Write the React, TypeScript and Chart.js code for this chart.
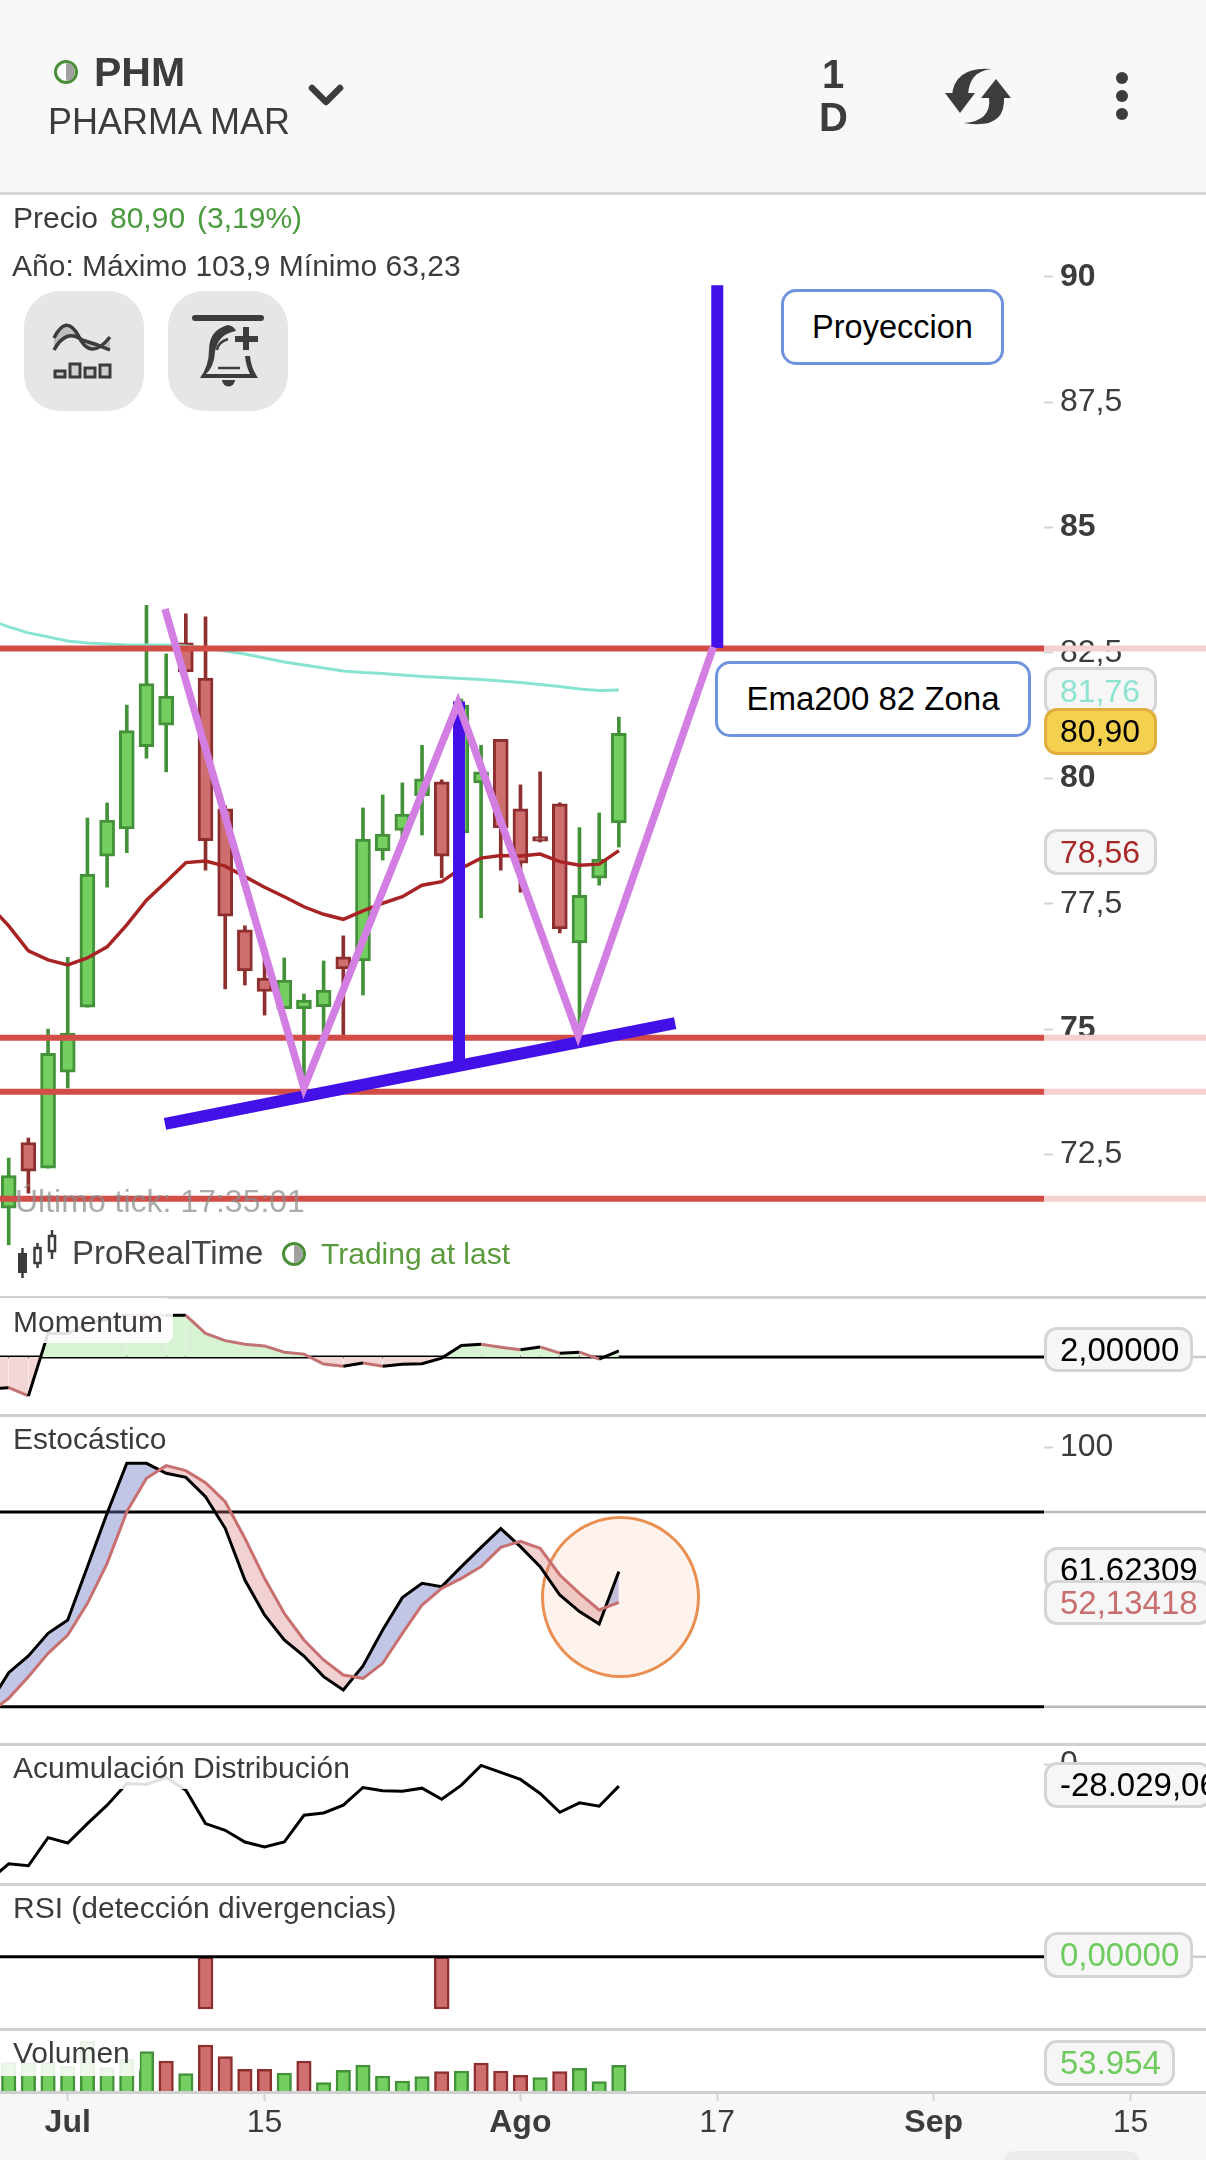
import React, { useEffect, useRef } from "react";
import { Chart, registerables } from "chart.js";

Chart.register(...registerables);

const FONT = '"Liberation Sans", Arial, sans-serif';

// ---------- price panel data ----------
const candleIndex = [0,1,2,3,4,5,6,7,8,9,10,11,12,13,14,15,16,17,18,19,20,21,22,23,24,25,26,27,28,29,30,31];
const candleOpen = [71.43,72.74,72.23,74.14,75.44,78.45,78.99,80.63,81.06,82.70,82.00,79.39,76.98,76.02,75.41,75.41,75.45,76.44,76.36,78.56,78.96,79.65,79.93,78.91,79.91,80.78,79.39,78.84,79.49,76.72,78.01,79.11];
const candleClose = [72.08,72.17,74.52,74.92,78.09,79.17,80.95,81.89,81.64,82.12,78.76,77.25,76.16,75.75,75.98,75.58,75.78,76.20,78.79,78.89,79.29,79.99,78.45,81.46,80.13,79.01,78.31,78.75,77.00,77.67,78.39,80.90];
const candleHigh = [72.43,72.83,75.00,76.43,79.21,79.51,81.46,83.45,82.48,83.28,83.22,79.45,77.06,76.42,76.42,75.70,76.36,76.86,79.41,79.67,79.91,80.66,79.97,81.58,80.66,80.78,79.87,80.13,79.51,79.02,79.31,81.22];
const candleLow = [70.70,71.73,72.23,73.83,75.44,77.83,78.52,80.40,80.13,82.12,78.17,75.80,75.88,75.28,75.41,73.83,74.92,74.88,75.68,78.37,78.83,78.87,78.02,78.91,77.22,78.17,77.73,78.73,76.92,74.88,77.87,78.63];
const lineIndex = [-1,0,1,2,3,4,5,6,7,8,9,10,11,12,13,14,15,16,17,18,19,20,21,22,23,24,25,26,27,28,29,30,31];
const maValues = [77.48,77.06,76.56,76.38,76.28,76.42,76.64,77.08,77.57,77.94,78.32,78.35,78.25,78.04,77.83,77.64,77.44,77.29,77.19,77.36,77.51,77.64,77.87,77.94,78.21,78.41,78.46,78.45,78.49,78.34,78.27,78.29,78.56];
const emaValues = [83.16,83.02,82.90,82.82,82.74,82.70,82.68,82.66,82.66,82.66,82.64,82.60,82.54,82.48,82.40,82.32,82.26,82.20,82.14,82.11,82.09,82.06,82.03,82.01,81.99,81.97,81.94,81.91,81.87,81.83,81.78,81.75,81.76];
const priceLevels = [82.59, 74.83, 73.75, 71.62];
const priceTicks = [72.5, 75, 77.5, 80, 82.5, 85, 87.5, 90];
const zigzagX = [7.94, 15.0, 22.83, 28.93, 35.8];
const zigzagY = [83.375, 73.83, 81.5, 74.88, 82.62];
const projectionX = [36, 36];
const projectionY = [89.83, 82.6];
const measureX = [22.88, 22.88];
const measureY = [81.53, 74.34];
const supportX = [7.94, 33.86];
const supportY = [73.11, 75.12];

// ---------- indicators ----------
const momentumValues = [-10.1,-9.79,-12.42,7.58,7.58,10.7,12,13.5,13.4,13.37,13.37,7.58,5.26,4.11,3.58,1.58,0.95,-2.21,-2.95,-1.89,-2.95,-2.32,-2.11,-0.32,3.68,4.11,3.16,2.32,3.26,1.26,1.58,-0.63,2.0];
const stochK = [20.73,30.49,35.62,42.61,46.72,63.15,79.59,95,95,91.92,90.68,84.73,74.97,59.04,48.26,40.55,35.62,29.26,25.15,32.54,43.64,53.6,58.02,56.99,63.15,69.11,74.86,69.32,63.15,54.42,49.29,45.49,61.62];
const stochD = [17.96,22.58,29.26,36.45,42.1,51.85,64.18,80.1,90.38,94.28,92.74,89.04,83.18,71.89,59.56,48.77,40.55,34.39,29.77,28.74,33.36,42.61,51.34,56.48,59.56,63.15,69.11,70.96,68.8,60.59,54.94,49.8,52.13];
const stochLevels = [80, 20];
const adValues = [-147900,-126650,-129200,-93500,-100300,-75650,-52275,-24650,-25925,-17000,-33150,-75650,-84150,-99025,-105400,-99025,-65025,-62050,-52275,-29750,-34000,-34425,-30600,-44625,-26775,-1700,-10625,-19550,-37400,-61200,-49300,-53550,-28029];
const rsiIndex = [10, 22];
const rsiValues = [-1, -1];
const volumeValues = [59560,59560,59560,52550,105100,49050,66570,82680,63060,36436,96700,72170,45545,45545,37838,63060,17518,43443,54655,31531,21021,30130,40640,42042,58860,42042,32933,28028,40640,47648,19620,53954];
const volumeUp = [1,1,1,1,1,1,1,1,0,1,0,0,0,0,1,0,1,1,1,1,1,1,0,1,0,0,0,1,0,1,1,1];
const xTickIndex = [3, 13, 26, 36, 47, 57];
const xTickLabels = ["Jul", "15", "Ago", "17", "Sep", "15"];
const xTickBold = ["Jul", "Ago", "Sep"];

// ---------- scale limits ----------
const X_MIN = -0.442;
const X_PLOT_MAX = 52.6;
const X_PAGE_MAX = 60.84;

const GREEN_FILL = "#74cf60";
const GREEN_EDGE = "#43923a";
const RED_FILL = "#cf6e6e";
const RED_EDGE = "#8e2f2f";
const LEVEL_RED = "#d24d46";
const LEVEL_FAINT = "#f6d0cf";
const VIOLET = "#d27ee3";
const BLUE = "#4310e8";
const TEXT = "#3c3c3c";

const xScale = () => ({ type: "linear", display: false, min: X_MIN, max: X_PLOT_MAX, offset: false, grid: { display: false } });

const fitY = (s: any) => { s.width = 162; s.paddingTop = 0; s.paddingBottom = 0; };

const hiddenY = (min: number, max: number) => ({
  type: "linear", position: "right", min, max,
  grid: { display: false }, border: { display: false }, ticks: { display: false },
  afterFit: fitY,
});

const tickedY = (min: number, max: number, values: number[], boldAt?: (v: number) => boolean, fmt?: (v: number) => string) => ({
  type: "linear", position: "right", min, max, z: 1,
  border: { display: false },
  grid: { drawOnChartArea: false, drawTicks: true, tickLength: 9, tickColor: "#d4d4d4", tickWidth: 2 },
  afterBuildTicks: (s: any) => { s.ticks = values.map((value) => ({ value })); },
  afterFit: fitY,
  ticks: {
    padding: 7, color: TEXT, autoSkip: false, crossAlign: "near",
    font: (ctx: any) => ({ family: FONT, size: 32, weight: boldAt && ctx.tick && boldAt(ctx.tick.value) ? "bold" : "normal" }),
    callback: (v: number) => (fmt ? fmt(v) : String(v).replace(".", ",")),
  },
});

const baseOptions = (scales: any) => ({
  responsive: false, animation: false, events: [],
  layout: { padding: 0 },
  plugins: { legend: { display: false }, tooltip: { enabled: false }, title: { display: false } },
  scales,
});

const pts = (xs: number[], ys: number[]) => xs.map((x, i) => ({ x, y: ys[i] }));

const line = (data: any[], color: string, width: number, order: number, extra: any = {}) => ({
  type: "line", data, borderColor: color, borderWidth: width, pointRadius: 0, tension: 0, fill: false, order, borderCapStyle: "butt", borderJoinStyle: "miter", ...extra,
});

const levelLine = (v: number, color: string, width: number, order: number) => line(pts([X_MIN - 1, X_PLOT_MAX], [v, v]), color, width, order, { clip: false });
const levelFaint = (v: number, color: string, width: number, order: number) => line(pts([X_PLOT_MAX, X_PAGE_MAX + 1], [v, v]), color, width, order, { clip: false });

const isUp = candleOpen.map((o, i) => candleClose[i] >= o);

const mainConfig = () => ({
  type: "bar",
  data: {
    datasets: [
      {
        data: candleIndex.map((x, i) => ({ x, y: [candleLow[i], candleHigh[i]] })),
        backgroundColor: isUp.map((u) => (u ? GREEN_EDGE : RED_EDGE)),
        borderWidth: 0, grouped: false, barPercentage: 1, categoryPercentage: 1, maxBarThickness: 3, order: 60,
      },
      {
        data: candleIndex.map((x, i) => ({ x, y: [candleOpen[i], candleClose[i]] })),
        backgroundColor: isUp.map((u) => (u ? GREEN_FILL : RED_FILL)),
        borderColor: isUp.map((u) => (u ? GREEN_EDGE : RED_EDGE)),
        borderWidth: 3, borderSkipped: false, grouped: false, barPercentage: 1, categoryPercentage: 1, maxBarThickness: 15, order: 50,
      },
      line(pts(lineIndex, emaValues), "#88e3d0", 3, 40),
      line(pts(lineIndex, maValues), "#a82424", 3.5, 39),
      ...priceLevels.map((v) => levelLine(v, LEVEL_RED, 6, 30)),
      ...priceLevels.map((v) => levelFaint(v, LEVEL_FAINT, 6, 31)),
      line(pts(projectionX, projectionY), BLUE, 12, 20),
      line(pts(measureX, measureY), BLUE, 12, 20),
      line(pts(supportX, supportY), BLUE, 12, 18),
      line(pts(zigzagX, zigzagY), VIOLET, 7.5, 10),
    ],
  },
  options: baseOptions({
    x: xScale(),
    y: tickedY(69.68, 91.63, priceTicks, (v) => v % 5 === 0),
  }),
});

const momentumConfig = () => ({
  type: "line",
  data: {
    datasets: [
      levelLine(0, "#000000", 3, 5),
      levelFaint(0, "#cccccc", 2.5, 6),
      line(pts(lineIndex, momentumValues), "#000000", 3, 1, {
        fill: { target: { value: 0 }, above: "#d8f2d4", below: "#f3d6d6" },
        segment: { borderColor: (c: any) => (c.p1.parsed.y >= c.p0.parsed.y ? "#000000" : "#c27272") },
      }),
    ],
  },
  options: baseOptions({ x: xScale(), y: hiddenY(-18.2, 18.9) }),
});

const stochConfig = () => ({
  type: "line",
  data: {
    datasets: [
      line(pts(lineIndex, stochK), "#000000", 3, 2, {
        fill: { target: "+1", above: "rgba(110,118,196,0.42)", below: "rgba(214,120,120,0.34)" },
      }),
      line(pts(lineIndex, stochD), "#c87070", 3, 1),
      ...stochLevels.map((v) => levelLine(v, "#000000", 3, 5)),
      ...stochLevels.map((v) => levelFaint(v, "#bbbbbb", 2.5, 6)),
    ],
  },
  options: baseOptions({ x: xScale(), y: tickedY(8.81, 109.58, [100]) }),
});

const adConfig = () => ({
  type: "line",
  data: { datasets: [line(pts(lineIndex, adValues), "#000000", 3, 1)] },
  options: baseOptions({ x: xScale(), y: tickedY(-151087, 22950, [0]) }),
});

const rsiConfig = () => ({
  type: "bar",
  data: {
    datasets: [
      {
        data: rsiIndex.map((x, i) => ({ x, y: [rsiValues[i], 0] })),
        backgroundColor: RED_FILL, borderColor: RED_EDGE, borderWidth: 2.5, borderSkipped: false,
        grouped: false, barPercentage: 1, categoryPercentage: 1, maxBarThickness: 15, order: 5,
      },
      levelLine(0, "#000000", 3, 2),
      levelFaint(0, "#cccccc", 2.5, 3),
    ],
  },
  options: baseOptions({ x: xScale(), y: hiddenY(-1.363, 1.352) }),
});

const volumeConfig = () => ({
  type: "bar",
  data: {
    datasets: [
      {
        data: candleIndex.map((x, i) => ({ x, y: volumeValues[i] })),
        backgroundColor: volumeUp.map((u) => (u ? GREEN_FILL : RED_FILL)),
        borderColor: volumeUp.map((u) => (u ? GREEN_EDGE : RED_EDGE)),
        borderWidth: 2.5, borderSkipped: "bottom",
        grouped: false, barPercentage: 1, categoryPercentage: 1, maxBarThickness: 14.5,
      },
    ],
  },
  options: baseOptions({ x: xScale(), y: hiddenY(0, 126120) }),
});

const axisConfig = () => ({
  type: "line",
  data: { datasets: [] },
  options: baseOptions({
    y: { display: false },
    x: {
      type: "linear", position: "bottom", min: X_MIN, max: X_PAGE_MAX, offset: false,
      border: { display: false },
      grid: { drawOnChartArea: false, drawTicks: true, tickLength: 8, tickColor: "#d4d4d4", tickWidth: 2 },
      afterBuildTicks: (s: any) => { s.ticks = xTickIndex.map((value) => ({ value })); },
      afterFit: (s: any) => { s.height = 67; s.paddingLeft = 0; s.paddingRight = 0; },
      ticks: {
        autoSkip: false, maxRotation: 0, minRotation: 0, padding: 3, color: TEXT,
        font: (ctx: any) => {
          const k = ctx.tick ? xTickIndex.indexOf(ctx.tick.value) : -1;
          return { family: FONT, size: 32, weight: k >= 0 && xTickBold.includes(xTickLabels[k]) ? "bold" : "normal" };
        },
        callback: (v: number) => xTickLabels[xTickIndex.indexOf(v)],
      },
    },
  }),
});

function Panel({ top, height, make }: { top: number; height: number; make: () => any }) {
  const ref = useRef<HTMLCanvasElement>(null);
  useEffect(() => {
    const chart = new Chart(ref.current as any, make());
    return () => chart.destroy();
  }, []);
  return <canvas ref={ref} width={1206} height={height} style={{ position: "absolute", left: 0, top, width: 1206, height, display: "block" }} />;
}

function T({ x, b, size, color = TEXT, weight = "normal", children }: any) {
  return (
    <div style={{ position: "absolute", left: x, top: b - 0.8465 * size, fontSize: size, lineHeight: `${size}px`, color, fontWeight: weight, whiteSpace: "nowrap", fontFamily: FONT }}>
      {children}
    </div>
  );
}

function Tag({ y0, y1, x1 = 1157, color = "#000", bg = "#f6f6f6", edge = "#d5d5d5", size = 32, children }: any) {
  return (
    <div style={{ position: "absolute", left: 1044, top: y0, width: x1 - 1044, height: y1 - y0, boxSizing: "border-box", background: bg, border: `3px solid ${edge}`, borderRadius: 13, color, fontSize: size, fontFamily: FONT, lineHeight: `${y1 - y0 - 6}px`, paddingLeft: 13, whiteSpace: "nowrap", overflow: "hidden" }}>
      {children}
    </div>
  );
}

function Note({ x0, y0, x1, y1, size, children }: any) {
  return (
    <div style={{ position: "absolute", left: x0, top: y0, width: x1 - x0, height: y1 - y0, boxSizing: "border-box", background: "#fff", border: "3px solid #6f93dd", borderRadius: 15, color: "#000", fontSize: size, fontFamily: FONT, lineHeight: `${y1 - y0 - 6}px`, textAlign: "center", whiteSpace: "nowrap" }}>
      {children}
    </div>
  );
}

const Sep = ({ y }: { y: number }) => <div style={{ position: "absolute", left: 0, top: y - 1.5, width: 1206, height: 3, background: "#cfcfcf" }} />;
const Veil = ({ x1, y0, y1 }: any) => <div style={{ position: "absolute", left: 0, top: y0, width: x1, height: y1 - y0, background: "rgba(255,255,255,0.88)", borderRadius: "0 8px 8px 0" }} />;

function Dot({ cx, cy }: { cx: number; cy: number }) {
  return (
    <svg style={{ position: "absolute", left: cx - 13, top: cy - 13 }} width={26} height={26}>
      <circle cx={13} cy={13} r={10.5} fill="#fff" stroke="#4a8f36" strokeWidth={3} />
      <path d="M13 4 A9 9 0 0 1 13 22 Z" fill="#a0a0a0" />
    </svg>
  );
}

function Overlay() {
  return (
    <svg style={{ position: "absolute", left: 0, top: 0 }} width={1206} height={2160}>
      {/* chevron */}
      <polyline points="312,88 326,102 340,88" fill="none" stroke="#3c3c3c" strokeWidth={6.5} strokeLinecap="round" strokeLinejoin="round" />
      {/* sync */}
      <g fill="#3c3c3c">
        <polygon points="945,93 975,93 960,113" />
        <path d="M952 95 Q955 66 992 69 Q969 71 968 95 Z" />
        <polygon points="981,98 1011,98 996,79" />
        <path d="M989 97 Q992 121 964 123 Q1006 130 1004 97 Z" />
        <circle cx={1122} cy={78} r={6} />
        <circle cx={1122} cy={96} r={6} />
        <circle cx={1122} cy={114} r={6} />
      </g>
      {/* indicator icon */}
      <path d="M54 337 Q66 314 78 335 Q90 358 110 337 L110 349 Q88 338 78 338 Q66 328 54 350 Z" fill="#bdbdbd" />
      <path d="M54 338 Q66 314 78 335 Q90 362 110 337" fill="none" stroke="#3c3c3c" strokeWidth={3.5} />
      <path d="M54 350 Q66 328 82 340 Q96 344 110 350" fill="none" stroke="#3c3c3c" strokeWidth={3.5} />
      {[[55, 371], [70, 364], [85, 368], [100, 365]].map(([x, y]) => (
        <rect key={x} x={x} y={y} width={10} height={377 - y} fill="#cfcfcf" stroke="#3c3c3c" strokeWidth={3} />
      ))}
      {/* alert icon */}
      <line x1={195} y1={318} x2={261} y2={318} stroke="#3c3c3c" strokeWidth={6} strokeLinecap="round" />
      <path d="M200 378 Q209 366 209 350 Q209 330 228 325 Q234 326 236 331 Q218 334 215 352 Q214 367 206 374 L250 374 Q246 366 245 356 L250 356 Q251 368 258 378 Z" fill="#3c3c3c" />
      <line x1={218} y1={368} x2={240} y2={368} stroke="#3c3c3c" strokeWidth={2.5} />
      <path d="M217 350 Q218 342 228 339" fill="none" stroke="#3c3c3c" strokeWidth={2.5} />
      <path d="M222 380 A6.5 6.5 0 0 0 235 380 Z" fill="#3c3c3c" />
      <line x1={246} y1={327} x2={246} y2={350} stroke="#3c3c3c" strokeWidth={6} />
      <line x1={235} y1={339} x2={258} y2={339} stroke="#3c3c3c" strokeWidth={6} />
      {/* logo candles */}
      <rect x={19} y={1254} width={7} height={18} fill="#3c3c3c" stroke="#3c3c3c" strokeWidth={2} />
      <line x1={22.5} y1={1248} x2={22.5} y2={1278} stroke="#3c3c3c" strokeWidth={2.5} />
      <rect x={34.5} y={1248} width={6} height={15} fill="#fff" stroke="#3c3c3c" strokeWidth={2.5} />
      <line x1={37.5} y1={1243} x2={37.5} y2={1248} stroke="#3c3c3c" strokeWidth={2.5} />
      <line x1={37.5} y1={1263} x2={37.5} y2={1268} stroke="#3c3c3c" strokeWidth={2.5} />
      <rect x={49} y={1236} width={6} height={15} fill="#fff" stroke="#3c3c3c" strokeWidth={2.5} />
      <line x1={52} y1={1230} x2={52} y2={1236} stroke="#3c3c3c" strokeWidth={2.5} />
      <line x1={52} y1={1251} x2={52} y2={1259} stroke="#3c3c3c" strokeWidth={2.5} />
    </svg>
  );
}

export default function App() {
  return (
    <div style={{ position: "absolute", left: 0, top: 0, width: 1206, height: 2160, overflow: "hidden", background: "#fff", fontFamily: FONT }}>
      <div style={{ position: "absolute", left: 0, top: 0, width: 1206, height: 192, background: "#f8f8f8" }} />
      <div style={{ position: "absolute", left: 0, top: 192, width: 1206, height: 3, background: "#d5d5d5" }} />
      <div style={{ position: "absolute", left: 24, top: 291, width: 120, height: 120, borderRadius: 36, background: "#e6e6e6" }} />
      <div style={{ position: "absolute", left: 168, top: 291, width: 120, height: 120, borderRadius: 36, background: "#e6e6e6" }} />

      <Panel top={195} height={1101} make={mainConfig} />
      <Panel top={1298} height={116} make={momentumConfig} />
      <div style={{ position: "absolute", left: 541, top: 1516, width: 159, height: 162, boxSizing: "border-box", borderRadius: "50%", background: "#fdf3ec", border: "3px solid #e98f52" }} />
      <Panel top={1416} height={327} make={stochConfig} />
      <Panel top={1746} height={137} make={adConfig} />
      <Panel top={1886} height={142} make={rsiConfig} />
      <Panel top={2031} height={60} make={volumeConfig} />
      <div style={{ position: "absolute", left: 0, top: 2092, width: 1206, height: 68, background: "#f7f7f7" }} />
      <Panel top={2093} height={67} make={axisConfig} />
      <div style={{ position: "absolute", left: 1003, top: 2151, width: 137, height: 12, borderRadius: "40px 40px 0 0", background: "#ececec" }} />

      {[1297, 1415, 1744, 1884, 2029, 2092].map((y) => <Sep key={y} y={y} />)}

      <Overlay />

      <Dot cx={66} cy={72} />
      <T x={94} b={87} size={41} weight="bold">PHM</T>
      <T x={48} b={134} size={36}>PHARMA MAR</T>
      <T x={822} b={87.5} size={40} weight="bold">1</T>
      <T x={819} b={131} size={40} weight="bold">D</T>

      <T x={13} b={228} size={30}>Precio</T>
      <T x={110} b={228} size={30} color="#4a9a3e">80,90</T>
      <T x={197} b={228} size={30} color="#4a9a3e">(3,19%)</T>
      <T x={12} b={276} size={30}>Año: Máximo 103,9 Mínimo 63,23</T>

      <T x={15} b={1212} size={32} color="rgba(140,140,140,0.72)">Último tick: 17:35:01</T>
      <T x={72} b={1264} size={33} color="#444">ProRealTime</T>
      <Dot cx={294} cy={1254} />
      <T x={321} b={1264} size={30} color="#5a9a3c">Trading at last</T>

      <Note x0={781} y0={289} x1={1004} y1={365} size={32.5}>Proyeccion</Note>
      <Note x0={715} y0={661} x1={1031} y1={737} size={33}>Ema200 82 Zona</Note>

      <Tag y0={667} y1={716} color="#8ee3d0">81,76</Tag>
      <Tag y0={708} y1={755} color="#000" bg="#f3d04e" edge="#e0ad3e">80,90</Tag>
      <Tag y0={829} y1={875} color="#a82828">78,56</Tag>

      <Veil x1={173} y0={1298} y1={1343} />
      <T x={13} b={1332} size={30}>Momentum</T>
      <T x={13} b={1449} size={30}>Estocástico</T>
      <Veil x1={352} y0={1746} y1={1789} />
      <T x={13} b={1778} size={30}>Acumulación Distribución</T>
      <T x={13} b={1918} size={30}>RSI (detección divergencias)</T>
      <Veil x1={140} y0={2031} y1={2076} />
      <T x={13} b={2063} size={30}>Volumen</T>

      <Tag y0={1327} y1={1372} x1={1193} size={33}>2,00000</Tag>
      <Tag y0={1547} y1={1592} x1={1212} size={33}>61,62309</Tag>
      <Tag y0={1580} y1={1625} x1={1212} color="#c86e6e" size={33}>52,13418</Tag>
      <Tag y0={1762} y1={1808} x1={1212} size={33}>-28.029,06</Tag>
      <Tag y0={1932} y1={1978} x1={1193} color="#6ecb5e" size={33}>0,00000</Tag>
      <Tag y0={2040} y1={2086} x1={1175} color="#6ecb5e" size={33}>53.954</Tag>
    </div>
  );
}
